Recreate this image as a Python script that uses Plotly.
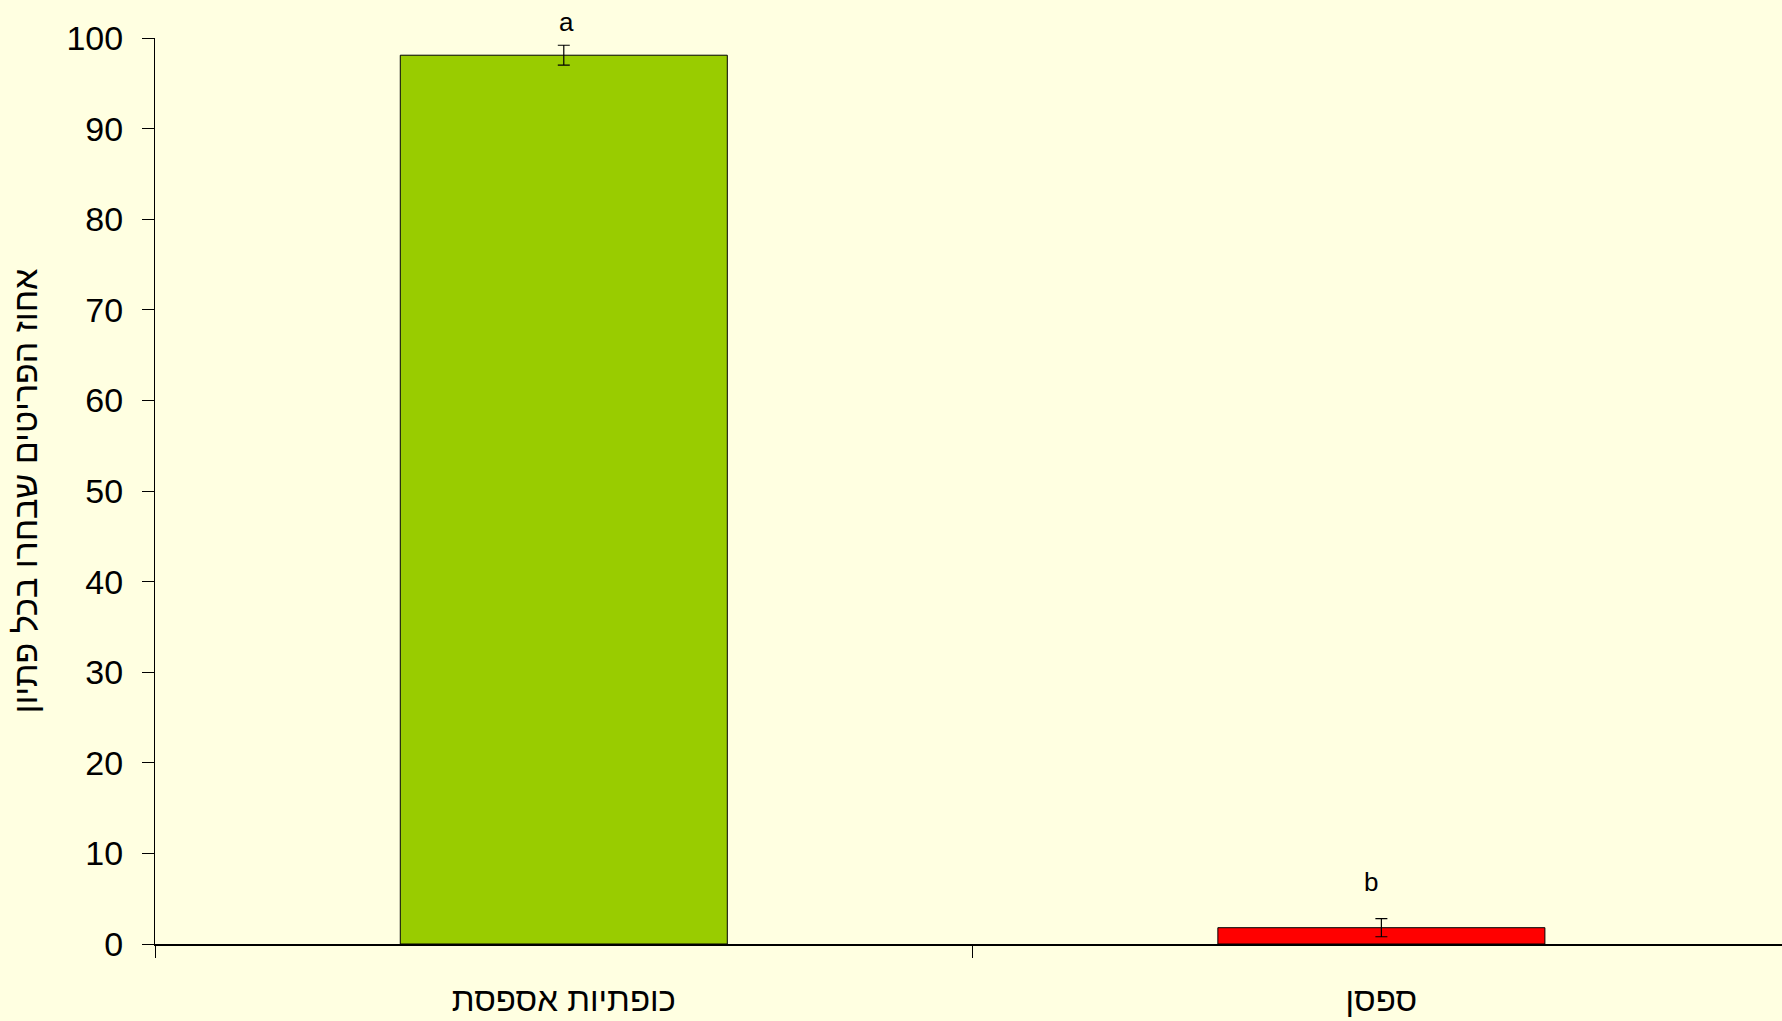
import plotly.graph_objects as go

categories = ["כופתיות אספסת", "ספסן"]
values = [98.1, 1.8]
errors = [1.1, 1.0]
letters = ["a", "b"]
colors = ["#99CC00", "#FF0000"]
y_title = "אחוז הפריטים שבחרו בכל פתיון"
y_ticks = [0, 10, 20, 30, 40, 50, 60, 70, 80, 90, 100]

FONT = "Liberation Sans, Arial, sans-serif"
BG = "#FFFFE1"

fig = go.Figure()
fig.add_trace(go.Bar(
    x=categories, y=values,
    marker=dict(color=colors, line=dict(color="#000000", width=1)),
    width=0.4,
    error_y=dict(type="data", array=errors, visible=True, color="#000000",
                 thickness=1.2, width=6),
    cliponaxis=False,
))

xshifts = [3, -10]
yshifts = [6, 20]
for c, v, e, t, sx, sy in zip(categories, values, errors, letters, xshifts, yshifts):
    fig.add_annotation(x=c, y=v + e, text=t, showarrow=False, yanchor="bottom",
                       yshift=sy, xshift=sx, font=dict(size=26, color="#000000", family=FONT))

fig.update_layout(
    width=1782, height=1021,
    paper_bgcolor=BG, plot_bgcolor=BG,
    margin=dict(l=155, r=0, t=38, b=77),
    showlegend=False,
    font=dict(family=FONT, color="#000000"),
    xaxis=dict(
        type="category", range=[-0.5, 1.49],
        showline=True, linecolor="#000000", linewidth=1.5,
        ticks="outside", tickson="boundaries", ticklen=12, tickcolor="#000000",
        tickfont=dict(size=33, family=FONT), showgrid=False, zeroline=False,
        ticklabelstandoff=26,
    ),
    yaxis=dict(
        range=[0, 100], tickvals=y_ticks,
        showline=True, linecolor="#000000", linewidth=1,
        ticks="outside", ticklen=12, tickcolor="#000000",
        tickfont=dict(size=34, family=FONT), showgrid=False, zeroline=False,
        ticklabelstandoff=12,
        title=dict(text=y_title, font=dict(size=34, family=FONT), standoff=18),
    ),
)

fig.write_html("out.html", config={"displayModeBar": False},
               post_script="document.body.style.margin='0';document.body.style.overflow='hidden';")
